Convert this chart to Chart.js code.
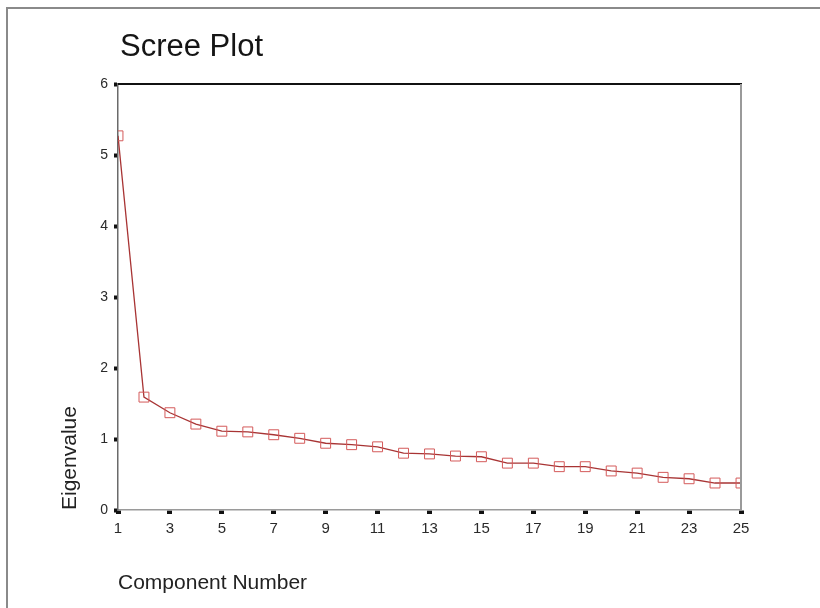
<!DOCTYPE html>
<html>
<head>
<meta charset="utf-8">
<script src="https://cdn.jsdelivr.net/npm/chart.js@4/dist/chart.umd.min.js"></script>
<style>
  html, body { margin: 0; padding: 0; background: #ffffff; }
  #wrap { position: relative; width: 820px; height: 608px; }
</style>
</head>
<body>
<div id="wrap"><canvas id="c" width="820" height="608"></canvas></div>
<script>
const chartTitle = "Scree Plot";
const xAxisTitle = "Component Number";
const yAxisTitle = "Eigenvalue";
const components = [1, 2, 3, 4, 5, 6, 7, 8, 9, 10, 11, 12, 13, 14, 15, 16, 17, 18, 19, 20, 21, 22, 23, 24, 25];
const eigenvalues = [5.27, 1.59, 1.37, 1.21, 1.11, 1.10, 1.06, 1.01, 0.94, 0.92, 0.89, 0.80, 0.79, 0.76, 0.75, 0.66, 0.66, 0.61, 0.61, 0.55, 0.52, 0.46, 0.44, 0.38, 0.38];
const xTickRange = [1, 25, 2];   // min, max, step
const yTickRange = [0, 6, 1];

const FONT = '"Liberation Sans", Arial, Helvetica, sans-serif';

const decorPlugin = {
  id: 'decor',
  beforeDraw(chart) {
    const ctx = chart.ctx;
    ctx.save();
    ctx.fillStyle = '#ffffff';
    ctx.fillRect(0, 0, chart.width, chart.height);
    ctx.strokeStyle = '#8a8a8a';
    ctx.lineWidth = 2;
    ctx.strokeRect(7, 8, 900, 700);
    ctx.fillStyle = '#151515';
    ctx.font = '31px ' + FONT;
    ctx.textBaseline = 'middle';
    ctx.textAlign = 'left';
    ctx.fillText(chartTitle, 120, 47);
    ctx.restore();
  },
  afterDraw(chart) {
    const {ctx, chartArea: a} = chart;
    ctx.save();
    ctx.strokeStyle = '#111111';
    ctx.lineWidth = 2;
    ctx.beginPath();
    ctx.moveTo(a.left, a.top);
    ctx.lineTo(a.right + 1, a.top);
    ctx.stroke();
    ctx.strokeStyle = '#9a9a9a';
    ctx.beginPath();
    ctx.moveTo(a.right, a.top);
    ctx.lineTo(a.right, a.bottom);
    ctx.stroke();
    ctx.restore();
  }
};

new Chart(document.getElementById('c'), {
  type: 'line',
  data: {
    datasets: [{
      data: components.map((c, i) => ({x: c, y: eigenvalues[i]})),
      borderColor: '#a83434',
      borderWidth: 1.3,
      pointStyle: 'rect',
      pointRadius: 7,
      pointBorderWidth: 1,
      pointBorderColor: '#d45a5a',
      pointBackgroundColor: 'rgba(255,255,255,0)',
      fill: false,
      tension: 0
    }]
  },
  options: {
    responsive: false,
    animation: false,
    layout: { padding: { top: 84, right: 79, bottom: 0, left: 0 } },
    plugins: { legend: { display: false }, tooltip: { enabled: false } },
    scales: {
      x: {
        type: 'linear',
        min: xTickRange[0], max: xTickRange[1],
        afterFit(s) { s.height = 98; },
        ticks: { stepSize: xTickRange[2], padding: 6, color: '#2a2a2a', font: { family: FONT, size: 15 } },
        grid: { drawOnChartArea: false, drawTicks: true, tickLength: 4, tickWidth: 5, tickColor: '#111' },
        border: { display: true, color: '#9a9a9a', width: 1.5 },
        title: { display: true, text: xAxisTitle, align: 'start', color: '#222', font: { family: FONT, size: 21 }, padding: { top: 0, bottom: 12 } }
      },
      y: {
        min: yTickRange[0], max: yTickRange[1],
        afterFit(s) { s.width = 118; },
        ticks: { stepSize: yTickRange[2], padding: 6, color: '#2a2a2a', font: { family: FONT, size: 14 } },
        grid: { drawOnChartArea: false, drawTicks: true, tickLength: 4, tickWidth: 4, tickColor: '#111' },
        border: { display: true, color: '#6a6a6a', width: 1.5 },
        title: { display: true, text: yAxisTitle, align: 'start', color: '#222', font: { family: FONT, size: 21 }, padding: { top: 58, bottom: 0 } }
      }
    }
  },
  plugins: [decorPlugin]
});
</script>
</body>
</html>
